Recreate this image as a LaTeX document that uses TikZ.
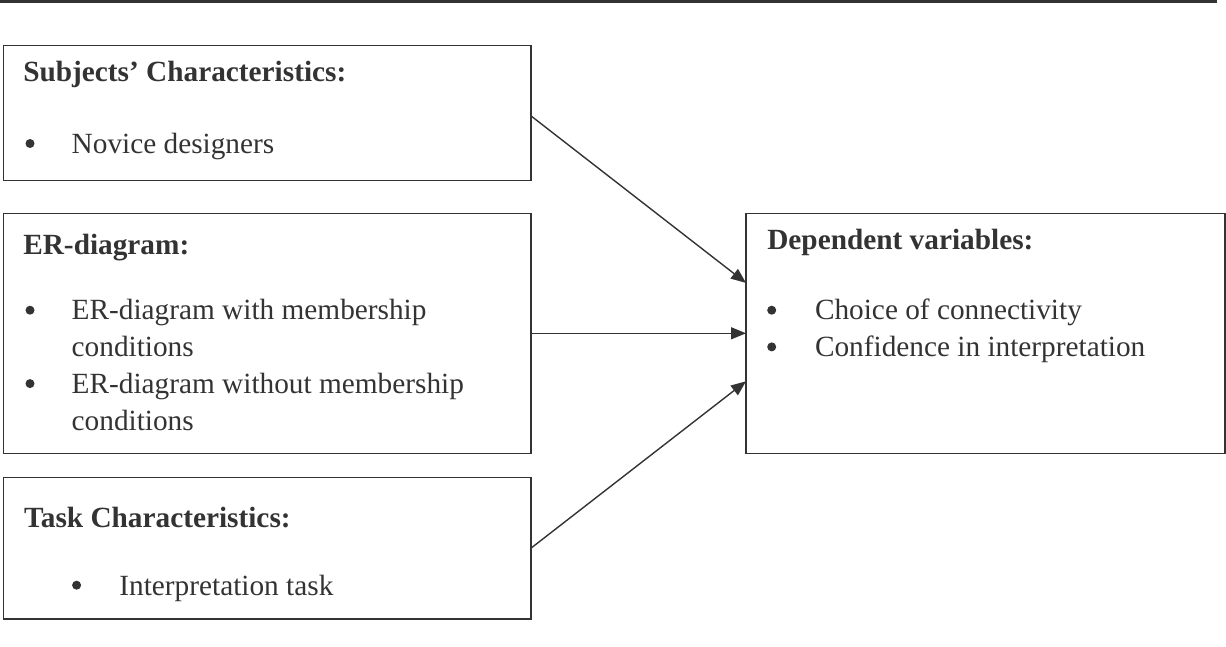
\documentclass[tikz,border=0pt]{standalone}
\usepackage{fontspec}
\setmainfont{Liberation Serif}
\usetikzlibrary{arrows.meta,calc}
\definecolor{ink}{HTML}{333333}
\begin{document}
\begin{tikzpicture}[x=1pt,y=1pt,
  box/.style={draw=ink,line width=1.4pt,rectangle,inner sep=0pt,outer sep=0pt},
  txt/.style={anchor=base west,inner sep=0pt,outer sep=0pt,text=ink,font=\fontsize{29.3}{36.7}\selectfont},
  hd/.style={anchor=base west,inner sep=0pt,outer sep=0pt,text=ink,font=\fontsize{29.3}{36.7}\selectfont\bfseries},
  bul/.style={circle,fill=ink,inner sep=0pt,outer sep=0pt,minimum size=9pt},
  conn/.style={draw=ink,line width=1.4pt,-{Triangle[length=15pt,width=12pt]}},
  rule/.style={draw=ink,line width=2.5pt}]
\useasboundingbox (0,0) rectangle (1226,646);
% top rule
\coordinate (r1) at (0,644.3);
\coordinate (r2) at (1216.7,644.3);
\draw[rule] (r1) -- (r2);
% boxes
\node[box,minimum width=527.7pt,minimum height=135pt] (b1) at (267.15,532.8) {};
\node[box,minimum width=527.7pt,minimum height=240pt] (b2) at (267.15,312.7) {};
\node[box,minimum width=527.7pt,minimum height=141.7pt] (b3) at (267.15,97.85) {};
\node[box,minimum width=479pt,minimum height=240pt] (b4) at (985.5,312.7) {};
% box 1
\node[hd] (h1) at (23.3,564.3) {Subjects’ Characteristics:};
\node[bul] (d1) at (30,502.5) {};
\node[txt] (t1) at (71.7,492.7) {Novice designers};
% box 2
\node[hd] (h2) at (23.3,391) {ER-diagram:};
\node[bul] (d2a) at (30,335.8) {};
\node[txt] (t2a) at (71.7,326) {ER-diagram with membership};
\node[txt] (t2b) at (71.7,289.3) {conditions};
\node[bul] (d2c) at (30,262.4) {};
\node[txt] (t2c) at (71.7,252.6) {ER-diagram without membership};
\node[txt] (t2d) at (71.7,216) {conditions};
% box 3
\node[hd] (h3) at (24,119) {Task Characteristics:};
\node[bul] (d3) at (76.6,60.8) {};
\node[txt] (t3) at (119.4,51) {Interpretation task};
% box 4
\node[hd] (h4) at (767.3,396) {Dependent variables:};
\node[bul] (d4a) at (771.7,335.8) {};
\node[txt] (t4a) at (815,326) {Choice of connectivity};
\node[bul] (d4b) at (771.7,299.1) {};
\node[txt] (t4b) at (815,289.3) {Confidence in interpretation};
% connectors
\draw[conn] ($(b1.north east)!0.52!(b1.south east)$) -- ($(b4.north west)!0.29!(b4.south west)$);
\draw[conn] (b2.east) -- (b4.west);
\draw[conn] (b3.east) -- ($(b4.north west)!0.70!(b4.south west)$);
\end{tikzpicture}
\end{document}
